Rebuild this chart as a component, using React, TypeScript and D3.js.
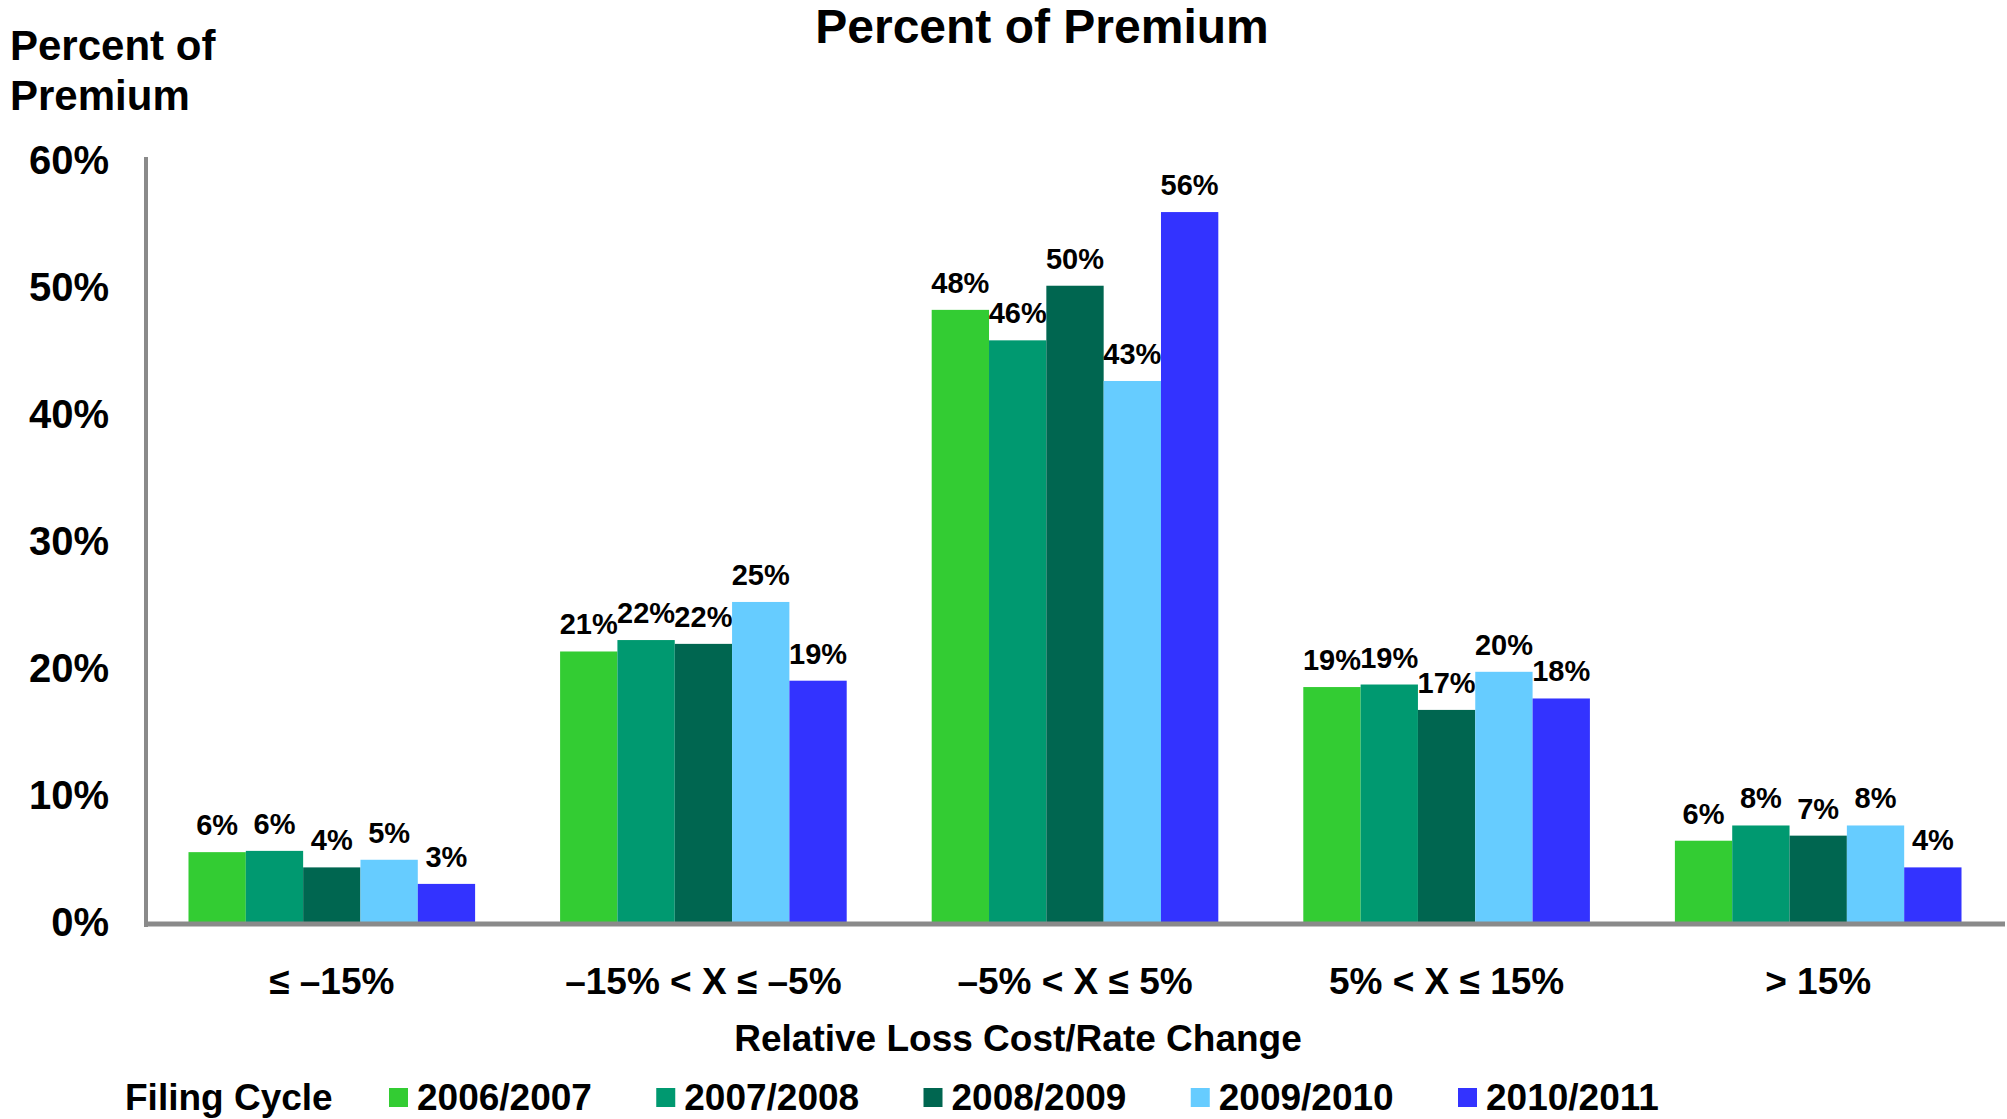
import React from "react";
import * as d3 from "d3";

const categories = ["≤ –15%", "–15% < X ≤ –5%", "–5% < X ≤ 5%", "5% < X ≤ 15%", "> 15%"];
const seriesNames = ["2006/2007", "2007/2008", "2008/2009", "2009/2010", "2010/2011"];
const seriesColors = ["#33CC33", "#009970", "#006650", "#66CCFF", "#3333FF"];
const v2006 = [5.5, 21.3, 48.2, 18.5, 6.4];
const v2007 = [5.6, 22.2, 45.8, 18.7, 7.6];
const v2008 = [4.3, 21.9, 50.1, 16.7, 6.8];
const v2009 = [4.9, 25.2, 42.6, 19.7, 7.6];
const v2010 = [3.0, 19.0, 55.9, 17.6, 4.3];
const yTicks = [0, 10, 20, 30, 40, 50, 60];

const seriesValues = [v2006, v2007, v2008, v2009, v2010];

const W = 2007;
const H = 1119;
const FONT = "'Liberation Sans', Arial, Helvetica, sans-serif";

export default function App() {
  const x0 = d3.scaleBand<string>().domain(categories).range([146, 2004]).paddingInner(0.2287).paddingOuter(0.11435);
  const x1 = d3.scaleBand<string>().domain(seriesNames).range([0, x0.bandwidth()]).padding(0);
  const y = d3.scaleLinear().domain([0, 60]).range([922, 160]);
  const legendX = d3.scaleLinear().domain([0, 4]).range([389, 1458]);

  return (
    <svg width={W} height={H} style={{ position: "absolute", left: 0, top: 0, background: "#fff" }} fontFamily={FONT} fontWeight="bold">
      <rect x={0} y={0} width={W} height={H} fill="#fff" />
      <text x={1042} y={43} fontSize={48} textAnchor="middle" fill="#000">Percent of Premium</text>
      <text x={10} y={60} fontSize={42} fill="#000">Percent of</text>
      <text x={10} y={110} fontSize={42} fill="#000">Premium</text>

      {yTicks.map((t) => (
        <text key={t} x={109} y={y(t)} dy="0.36em" fontSize={40} textAnchor="end" fill="#000">{`${t}%`}</text>
      ))}

      {categories.map((c, ci) => (
        <g key={c} transform={`translate(${x0(c)},0)`}>
          {seriesNames.map((s, si) => {
            const v = seriesValues[si][ci];
            const bx = x1(s) as number;
            return (
              <g key={s}>
                <rect x={bx} y={y(v)} width={x1.bandwidth()} height={y(0) - y(v)} fill={seriesColors[si]} />
                <text x={bx + x1.bandwidth() / 2} y={y(v) - 17} fontSize={29} textAnchor="middle" fill="#000">{`${Math.round(v)}%`}</text>
              </g>
            );
          })}
        </g>
      ))}

      <line x1={146} x2={146} y1={157} y2={927} stroke="#8a8a8a" strokeWidth={4} />
      <line x1={144} x2={2005} y1={924} y2={924} stroke="#8a8a8a" strokeWidth={5} />

      {categories.map((c) => (
        <text key={c} x={(x0(c) as number) + x0.bandwidth() / 2} y={994} fontSize={37} textAnchor="middle" fill="#000">{c}</text>
      ))}

      <text x={1018} y={1051} fontSize={37} textAnchor="middle" fill="#000">Relative Loss Cost/Rate Change</text>

      <text x={125} y={1110} fontSize={37} fill="#000">Filing Cycle</text>
      {seriesNames.map((s, i) => (
        <g key={s}>
          <rect x={legendX(i)} y={1088} width={19} height={19} fill={seriesColors[i]} />
          <text x={legendX(i) + 28} y={1110} fontSize={37} fill="#000">{s}</text>
        </g>
      ))}
    </svg>
  );
}
